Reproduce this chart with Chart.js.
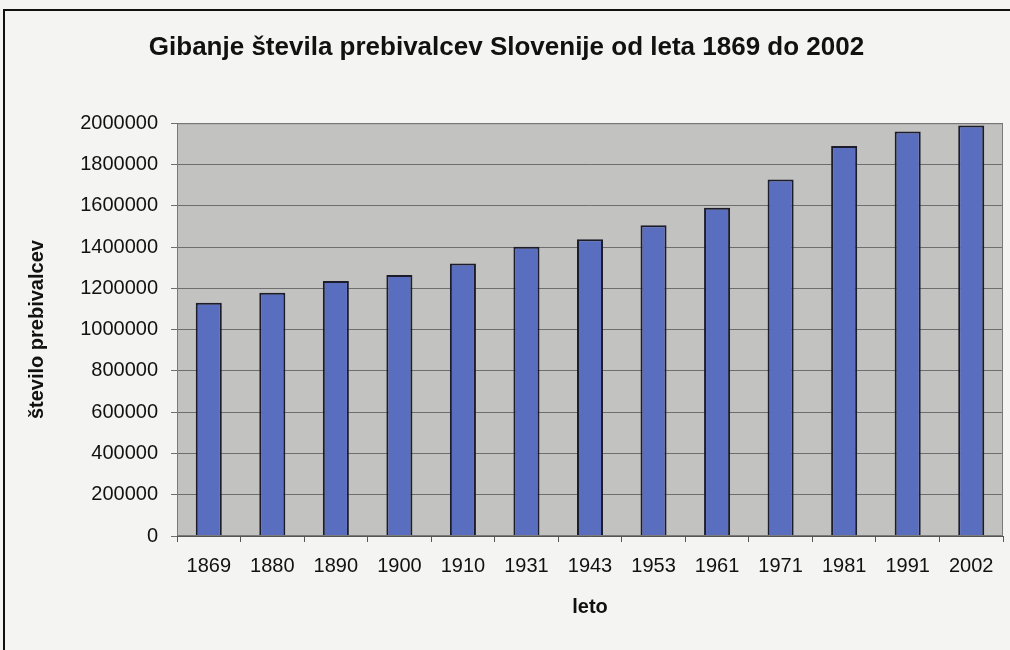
<!DOCTYPE html>
<html>
<head>
<meta charset="utf-8">
<script src="https://cdn.jsdelivr.net/npm/chart.js@4.4.1/dist/chart.umd.min.js"></script>
<style>
  html, body { margin: 0; padding: 0; background: #f4f4f2; }
  canvas { display: block; }
</style>
</head>
<body>
<canvas id="popChart" width="1010" height="650"></canvas>
<script>
// podatki (odčitani s slike)
const years = ['1869', '1880', '1890', '1900', '1910', '1931', '1943', '1953', '1961', '1971', '1981', '1991', '2002'];
const population = [1130000, 1178000, 1236000, 1265000, 1320000, 1401000, 1438000, 1506000, 1590000, 1727000, 1890000, 1960000, 1989000];
const yTicks = [0, 200000, 400000, 600000, 800000, 1000000, 1200000, 1400000, 1600000, 1800000, 2000000];

const fontSans = '"Liberation Sans", Arial, sans-serif';

// sivo ozadje risalne površine + okvir okoli slike
const backdrop = {
    id: 'backdrop',
    beforeDraw(chart) {
        const { ctx, chartArea: a } = chart;
        ctx.save();
        ctx.fillStyle = '#c2c2c0';
        ctx.fillRect(a.left, a.top, a.right - a.left, a.bottom - a.top);
        ctx.restore();
    },
    afterDraw(chart) {
        const { ctx, chartArea: a } = chart;
        ctx.save();
        ctx.strokeStyle = '#7a7a7a';
        ctx.lineWidth = 1;
        ctx.strokeRect(a.left + 0.5, a.top + 0.5, a.right - a.left - 1, a.bottom - a.top - 1);
        ctx.strokeStyle = '#111';
        ctx.lineWidth = 2;
        ctx.strokeRect(4, 10, 1020, 700);
        ctx.restore();
    }
};

new Chart(document.getElementById('popChart'), {
    type: 'bar',
    data: {
        labels: years,
        datasets: [{
            label: 'število prebivalcev',
            data: population,
            backgroundColor: '#5a6ec0',
            borderColor: '#1c1c2a',
            borderWidth: 2,
            borderSkipped: 'bottom',
            barPercentage: 0.82,
            categoryPercentage: 0.5
        }]
    },
    options: {
        responsive: false,
        animation: false,
        layout: { padding: { left: 10, right: 7, top: 0, bottom: 0 } },
        plugins: {
            legend: { display: false },
            tooltip: { enabled: false },
            title: {
                display: true,
                text: 'Gibanje števila prebivalcev Slovenije od leta 1869 do 2002',
                color: '#111',
                font: { family: fontSans, size: 26, weight: 'bold' },
                padding: { top: 32, bottom: 60 }
            }
        },
        scales: {
            x: {
                afterFit: (s) => { s.height = 114; },
                grid: { drawOnChartArea: false, drawTicks: true, tickLength: 6, color: '#555' },
                border: { color: '#555' },
                ticks: { color: '#111', font: { family: fontSans, size: 20 }, padding: 12, maxRotation: 0 },
                title: {
                    display: true,
                    text: 'leto',
                    color: '#111',
                    font: { family: fontSans, size: 20, weight: 'bold' },
                    padding: { top: 0, bottom: 31 }
                }
            },
            y: {
                min: 0,
                max: 2000000,
                afterFit: (s) => { s.width = 167; },
                afterBuildTicks: (s) => { s.ticks = yTicks.map(v => ({ value: v })); },
                grid: { color: '#6e6e6e', lineWidth: 1, tickLength: 6 },
                border: { color: '#555' },
                ticks: {
                    color: '#111',
                    font: { family: fontSans, size: 20 },
                    padding: 13,
                    callback: (v) => String(v)
                },
                title: {
                    display: true,
                    text: 'število prebivalcev',
                    color: '#111',
                    font: { family: fontSans, size: 20, weight: 'bold' },
                    padding: { top: 15, bottom: 0 }
                }
            }
        }
    },
    plugins: [backdrop]
});
</script>
</body>
</html>
